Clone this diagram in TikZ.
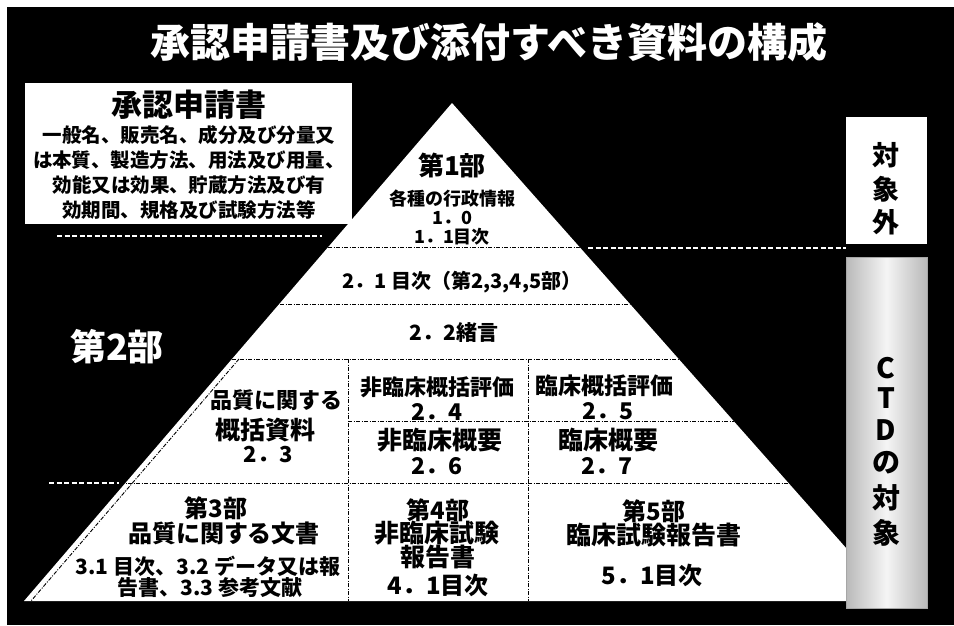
\documentclass[tikz,border=0pt]{standalone}
\usepackage{fontspec}
\newfontfamily\jp{Noto Sans CJK JP}
\begin{document}
\begin{tikzpicture}[x=1pt,y=-1pt,
  jt/.style={text=black, inner sep=0pt, anchor=center, font=\jp\bfseries\fontsize{#1}{#1}\selectfont},
  wt/.style={text=white, inner sep=0pt, anchor=center, font=\jp\bfseries\fontsize{#1}{#1}\selectfont},
  dd/.style={black, line width=0.9pt, dash pattern=on 4pt off 1.5pt on 1pt off 1.5pt},
  wd/.style={white, line width=1.1pt, dash pattern=on 5pt off 2.5pt}]
\useasboundingbox (0,0) rectangle (954,625);
\fill[white] (0,0) rectangle (954,625);
\fill[black] (7,7) rectangle (954,625);
% pyramid
\coordinate (apex) at (452,103);
\coordinate (bl) at (24,601);
\coordinate (br) at (893,601);
\fill[white] (bl) -- (apex) -- (br) -- cycle;
\begin{scope}
  \clip (bl) -- (apex) -- (br) -- cycle;
  \draw[dd] (0,247) -- (954,247);
  \draw[dd] (0,304) -- (954,304);
  \draw[dd] (0,359) -- (954,359);
  \draw[dd] (348,421) -- (954,421);
  \draw[dd] (0,483) -- (954,483);
  \draw[dd] (348,359) -- (348,601);
  \draw[dd] (528,359) -- (528,601);
  \draw[dd] (239,359) -- (31,601);
\end{scope}
% white dashed guides outside
\draw[wd] (57,236) -- (322,236);
\draw[wd] (49,483) -- (119,483);
\draw[wd] (588,248) -- (846,248);
% boxes
\fill[white] (25,83) rectangle (352,224);
\fill[white] (846,117) rectangle (927,244);
\shade[left color=gray!55, right color=gray!55, middle color=gray!8] (846,257) rectangle (927,608);
\draw[gray!70, line width=0.6pt] (846,257) rectangle (927,608);
% title
\node[wt=40] (title) at (489,42) {承認申請書及び添付すべき資料の構成};
% application box
\node[jt=31] (app) at (189,105) {承認申請書};
\node[jt=19.5] (appa) at (189,135) {一般名、販売名、成分及び分量又};
\node[jt=19.5] (appb) at (189,160) {は本質、製造方法、用法及び用量、};
\node[jt=19.5] (appc) at (189,185) {効能又は効果、貯蔵方法及び有};
\node[jt=19.5] (appd) at (189,210) {効期間、規格及び試験方法等};
% part 2 label
\node[wt=36] (p2) at (117,347) {第2部};
% right boxes
\node[jt=27] (ga) at (886,155) {対};
\node[jt=27] (gb) at (886,189) {象};
\node[jt=27] (gc) at (886,222) {外};
\node[jt=28] (ca) at (886,368) {C};
\node[jt=28] (cb) at (886,398) {T};
\node[jt=28] (cc) at (886,430) {D};
\node[jt=28] (cd) at (886,463) {の};
\node[jt=28] (ce) at (886,498) {対};
\node[jt=28] (cf) at (886,533) {象};
% part 1
\node[jt=26] (p1) at (452,165) {第1部};
\node[jt=18] (p1a) at (452,199) {各種の行政情報};
\node[jt=18] (p1b) at (452,218) {1．0};
\node[jt=18] (p1c) at (452,237) {1．1目次};
% part 2 rows
\node[jt=20] (t21) at (462,282) {2．1 目次（第2,3,4,5部）};
\node[jt=21] (t22) at (454,333) {2．2緒言};
\node[jt=22] (q1) at (276,400) {品質に関する};
\node[jt=25] (q2) at (265,430) {概括資料};
\node[jt=22] (q3) at (268,455) {2．3};
\node[jt=22] (n1) at (437,387) {非臨床概括評価};
\node[jt=23] (n2) at (437,412) {2．4};
\node[jt=23] (c1) at (604,386) {臨床概括評価};
\node[jt=23] (c2) at (608,411) {2．5};
\node[jt=25] (n3) at (440,440) {非臨床概要};
\node[jt=23] (n4) at (437,466) {2．6};
\node[jt=25] (c3) at (608,440) {臨床概要};
\node[jt=23] (c4) at (607,466) {2．7};
% parts 3-5
\node[jt=24] (p3) at (216,508) {第3部};
\node[jt=24] (p3a) at (224,533) {品質に関する文書};
\node[jt=21] (p3b) at (208,566) {3.1 目次、3.2 データ又は報};
\node[jt=21] (p3c) at (210,588) {告書、3.3 参考文献};
\node[jt=24] (p4) at (438,510) {第4部};
\node[jt=25] (p4a) at (437,533) {非臨床試験};
\node[jt=25] (p4b) at (438,557) {報告書};
\node[jt=24] (p4c) at (438,585) {4．1目次};
\node[jt=24] (p5) at (654,511) {第5部};
\node[jt=25] (p5a) at (654,535) {臨床試験報告書};
\node[jt=24] (p5b) at (652,575) {5．1目次};
\end{tikzpicture}
\end{document}
